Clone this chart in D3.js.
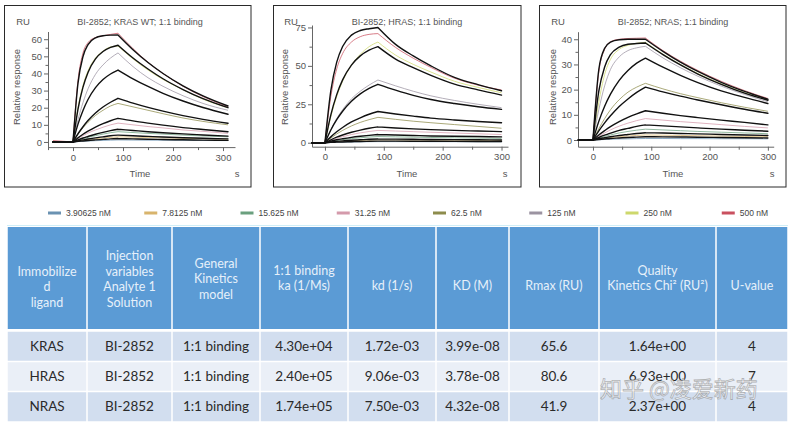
<!DOCTYPE html>
<html><head><meta charset="utf-8">
<script src="https://cdn.jsdelivr.net/npm/d3@7"></script>
<style>body{margin:0;background:#fff}svg{display:block}</style>
</head><body><svg id="c" width="790" height="424"></svg>
<script>
// ---------------- DATA ----------------
const concentrations = ["3.90625 nM","7.8125 nM","15.625 nM","31.25 nM","62.5 nM","125 nM","250 nM","500 nM"];
const legendColors = ["#6a92b2","#d8b46c","#6aa07e","#d49aab","#8d8c4c","#9b93a1","#cdd86c","#c9505f"];

const kTime = [-40,0,10,20,30,45,60,75,90,120,150,180,220,260,310];
const hTime = [-22,0,10,20,30,45,60,75,90,120,150,180,220,260,300];
const nTime = [-25,0,10,20,30,45,60,75,90,120,150,180,220,260,300];

// fitted (black) curves, highest concentration first
const krasFit = [
 [0,0,34.4,49.9,56.8,60.8,62,62.4,62.5,53.9,46.4,40,32.8,26.9,21],
 [0,0,19.2,32,40.6,48.5,52.8,55.2,56.5,49,42.6,36.9,30.6,25.3,20],
 [0,0,10.4,18.4,24.8,31.7,36.5,39.7,42,36.9,32.4,28.4,23.9,20.1,16.2],
 [0,0,4.8,8.9,12.5,16.9,20.4,23.2,25.5,22.7,20.2,18,15.4,13.2,10.9],
 [0,0,2.4,4.5,6.3,8.7,10.7,12.4,13.8,12.3,11,9.8,8.4,7.3,6],
 [0,0,1.2,2.3,3.2,4.5,5.6,6.6,7.4,6.7,6,5.4,4.7,4.1,3.4],
 [0,0,0.64,1.2,1.75,2.4,3,3.6,4,3.6,3.25,2.9,2.5,2.2,1.8],
 [0,0,0.32,0.6,0.87,1.2,1.5,1.8,2,1.8,1.6,1.45,1.25,1.1,0.9]
];
// measured (coloured) curves, highest concentration first
const krasData = [
 [0.8,0,36,52,58,61,62,62.8,63.5,54.5,46.5,40,32.5,26.5,20.5],
 [0,0,20,33,41.5,49,53,55.5,56,48.5,42,36.5,30.5,25,20],
 [0,0,13,23,31,39.5,45,49,52,44,37.5,32.5,27,22.5,18.5],
 [0,0,4.5,8.3,11.5,15.5,18.5,21,22.5,20.5,18.5,16.5,14,12,10],
 [0,0,2,3.7,5.2,7,8.6,10,11,10,9,8.2,7,6.2,5],
 [0,0,1,1.9,2.7,3.7,4.6,5.4,6,5.5,5,4.6,4,3.5,3],
 [0,0,0.5,1,1.4,1.9,2.3,2.7,3,2.8,2.6,2.4,2.1,1.9,1.6],
 [0,0,0.2,0.4,0.55,0.75,0.9,1.05,1.2,1.1,1.05,1,0.9,0.85,0.8]
];
const hrasFit = [
 [0,0,33.9,52.4,62.6,70,73,74.2,75,64,56.5,50,42.5,37.8,33.8],
 [0,0,18.1,31.3,40.9,50.5,56.5,60.2,62.5,54.4,48.8,43.8,38.1,34.4,31],
 [0,0,8.3,15,20.5,27,31.8,35.4,38,34.2,30.8,28.1,25.5,23.4,21.7],
 [0,0,3.8,7.1,9.9,13.5,16.2,18.5,20.3,18.7,17.3,16,14.8,13.8,13],
 [0,0,1.9,3.6,5,6.8,8.2,9.4,10.3,9.6,9,8.5,8,7.6,7.2],
 [0,0,1,1.9,2.6,3.5,4.2,4.8,5.3,5,4.7,4.4,4.2,4,3.8],
 [0,0,0.45,0.85,1.2,1.6,1.9,2.2,2.4,2.3,2.2,2.1,2,1.9,1.8],
 [0,0,0.2,0.35,0.5,0.65,0.8,0.9,1,1,0.95,0.9,0.85,0.8,0.75]
];
const hrasData = [
 [0,0,30,48,58,65.5,69,70.5,71,62,55,49,42,37.5,34.3],
 [0,0,17,30,40,50.5,57.5,62.5,65.5,57,51,46,40,36,32.5],
 [0,0,8.5,15.7,21.5,28.5,33.5,37.5,40.8,37,33.5,30.5,27.5,25,22.8],
 [0,0,3,5.7,8,10.9,13.2,15,16.5,15.2,14,13,11.8,10.6,9.4],
 [0,0,1.5,2.8,3.9,5.3,6.4,7.3,8,7.6,7.2,6.8,6.3,5.8,5.3],
 [0,0,0.8,1.4,2,2.7,3.2,3.7,4,3.8,3.6,3.4,3.2,3,2.8],
 [0,0,0.35,0.65,0.9,1.2,1.45,1.65,1.8,1.75,1.7,1.65,1.6,1.55,1.5],
 [0,0,0.1,0.25,0.35,0.45,0.55,0.65,0.7,0.7,0.7,0.65,0.65,0.6,0.6]
];
const nrasFit = [
 [0,0,28,36.4,38.9,39.8,40,40,40,35.2,30.9,27.2,22.9,19.3,16.2],
 [0,0,19.4,29,33.9,36.9,38,38.3,38.5,33.9,29.8,26.2,22.1,18.6,15.8],
 [0,0,7.4,13.4,18.2,23.7,27.6,30.5,32.5,28.9,25.7,22.8,19.5,16.9,14.5],
 [0,0,3.6,6.8,9.6,13.3,16.3,18.9,21,19.1,17.4,15.9,14,12.2,10.6],
 [0,0,2,3.7,5.3,7.3,9,10.4,11.6,10.6,9.7,8.9,7.9,7,6],
 [0,0,1,1.9,2.7,3.8,4.6,5.4,6,5.6,5.2,4.8,4.3,3.9,3.5],
 [0,0,0.5,0.9,1.3,1.8,2.2,2.6,2.9,2.75,2.6,2.45,2.2,2,1.8],
 [0,0,0.2,0.4,0.6,0.8,1,1.15,1.3,1.25,1.2,1.1,1,0.9,0.8]
];
const nrasData = [
 [0,0,27,36,39,40,40.3,40.4,40.5,35.5,31.3,27.6,23.3,19.6,16.5],
 [0,0,15,26,32,36,37.6,38.4,38.8,34.1,30,26.4,22.3,18.8,15.9],
 [0,0,12,21.5,28,33,35.5,36.6,37.2,32.6,28.7,25.3,21.4,18.1,15.2],
 [0,0,4.5,8.5,12,16,19,21,22.5,20.3,18.4,16.8,14.8,13,11.4],
 [0,0,1.5,2.8,4,5.5,6.7,7.7,8.5,7.9,7.3,6.8,6.1,5.4,4.8],
 [0,0,0.7,1.4,2,2.8,3.4,3.9,4.3,4,3.7,3.4,3.1,2.8,2.5],
 [0,0,0.3,0.6,0.9,1.3,1.6,1.8,2,1.9,1.8,1.7,1.55,1.4,1.3],
 [0,0,0.1,0.2,0.3,0.4,0.45,0.55,0.6,0.6,0.55,0.55,0.5,0.5,0.45]
];

const xTickValues = [0,100,200,300];
const krasYTicks = [0,10,20,30,40,50,60];
const hrasYTicks = [0,25,50,75];
const nrasYTicks = [0,10,20,30,40];

const tableHeader = [
 ["Immobilize","d","ligand"],
 ["Injection","variables","Analyte 1","Solution"],
 ["General","Kinetics","model"],
 ["1:1 binding","ka (1/Ms)"],
 ["kd (1/s)"],
 ["KD (M)"],
 ["Rmax (RU)"],
 ["Quality","Kinetics Chi\u00B2 (RU\u00B2)"],
 ["U-value"]
];
const tableRows = [
 ["KRAS","BI-2852","1:1 binding","4.30e+04","1.72e-03","3.99e-08","65.6","1.64e+00","4"],
 ["HRAS","BI-2852","1:1 binding","2.40e+05","9.06e-03","3.78e-08","80.6","6.93e+00","7"],
 ["NRAS","BI-2852","1:1 binding","1.74e+05","7.50e-03","4.32e-08","41.9","2.37e+00","4"]
];
const watermark = "知乎 @凌爱新药";

// ---------------- LAYOUT ----------------
const svg = d3.select("#c");
const FONT = "'Liberation Sans', Arial, sans-serif";
const panels = [
 {title:"BI-2852; KRAS WT; 1:1 binding", time:kTime, fit:krasFit, data:krasData, yTicks:krasYTicks, yStep:5,
  frame:[4.5,5.5,251,187], xDom:[-50,324], xR:[48,235], yDom:[-3,64.5], yR:[147.1,31.5], ruX:23, tX:140, labX:20, sX:237},
 {title:"BI-2852; HRAS; 1:1 binding", time:hTime, fit:hrasFit, data:hrasData, yTicks:hrasYTicks, yStep:12.5,
  frame:[273.5,5.5,521,187], xDom:[-22,311], xR:[312,508], yDom:[-2.6,76.6], yR:[146.7,25], ruX:291, tX:407, labX:288, sX:505},
 {title:"BI-2852; NRAS; 1:1 binding", time:nTime, fit:nrasFit, data:nrasData, yTicks:nrasYTicks, yStep:5,
  frame:[539.5,5.5,786,187], xDom:[-25.7,310], xR:[578,773.7], yDom:[-2.66,43], yR:[146.7,31.7], ruX:558, tX:673, labX:556, sX:772}
];

panels.forEach(p=>{
  const g = svg.append("g");
  const [fx0,fy0,fx1,fy1] = p.frame;
  g.append("rect").attr("x",fx0).attr("y",fy0).attr("width",fx1-fx0).attr("height",fy1-fy0)
   .attr("fill","#fff").attr("stroke","#2a2a2a").attr("stroke-width",1);
  const x = d3.scaleLinear().domain(p.xDom).range(p.xR);
  const y = d3.scaleLinear().domain(p.yDom).range(p.yR);

  const styleAxis = sel=>{
    sel.selectAll("path,line").attr("stroke","#666").attr("stroke-width",1);
    sel.selectAll("text").attr("fill","#555").attr("font-family",FONT).attr("font-size","9.5px");
  };
  const minorX = d3.range(-50, 351, 50).filter(v=>v>=p.xDom[0]-0.5 && v<=p.xDom[1] && v%100!==0);
  g.append("g").attr("transform",`translate(0,${p.yR[0]})`)
    .call(d3.axisBottom(x).tickValues(minorX).tickSize(3).tickSizeOuter(0).tickFormat(""))
    .call(s=>s.select(".domain").remove()).call(styleAxis);
  g.append("g").attr("transform",`translate(0,${p.yR[0]})`)
    .call(d3.axisBottom(x).tickValues(xTickValues).tickSize(4).tickSizeOuter(0).tickPadding(3).tickFormat(d3.format("d")))
    .call(styleAxis);
  const minorY = d3.range(0, p.yDom[1], p.yStep).filter(v=>!p.yTicks.includes(v));
  g.append("g").attr("transform",`translate(${p.xR[0]},0)`)
    .call(d3.axisLeft(y).tickValues(minorY).tickSize(2.5).tickSizeOuter(0).tickFormat(""))
    .call(s=>s.select(".domain").remove()).call(styleAxis);
  g.append("g").attr("transform",`translate(${p.xR[0]},0)`)
    .call(d3.axisLeft(y).tickValues(p.yTicks).tickSize(4).tickSizeOuter(0).tickPadding(2).tickFormat(d3.format("d")))
    .call(styleAxis);

  const txt = (xx,yy,s,opt={})=>g.append("text").attr("x",xx).attr("y",yy).text(s)
    .attr("font-family",FONT).attr("font-size",opt.size||"9.5px").attr("fill","#555")
    .attr("text-anchor",opt.anchor||"middle");
  txt(p.ruX,24.5,"RU");
  txt(p.tX,24.5,p.title,{size:"9px"});
  txt(p.tX,176.5,"Time");
  txt(p.sX,176.5,"s");
  g.append("text").attr("transform",`translate(${p.labX},87) rotate(-90)`).attr("text-anchor","middle")
    .attr("font-family",FONT).attr("font-size","9.5px").attr("fill","#555").text("Relative response");

  const i0 = p.time.indexOf(0), i90 = p.time.indexOf(90);
  const pathOf = vals=>{
    const pts = p.time.map((t,i)=>[t,vals[i]]);
    const L = c=>d3.line().x(d=>x(d[0])).y(d=>y(d[1])).curve(c);
    return L(d3.curveLinear)(pts.slice(0,i0+1)) + L(d3.curveMonotoneX)(pts.slice(i0,i90+1)) + L(d3.curveMonotoneX)(pts.slice(i90));
  };
  const cg = g.append("g");
  p.data.forEach((vals,k)=>{
    cg.append("path").attr("d",pathOf(vals)).attr("fill","none")
      .attr("stroke",legendColors[legendColors.length-1-k]).attr("stroke-width",1).attr("opacity",0.75);
  });
  p.fit.forEach(vals=>{
    cg.append("path").attr("d",pathOf(vals)).attr("fill","none")
      .attr("stroke","#111").attr("stroke-width",1.4).attr("stroke-linejoin","round").attr("stroke-linecap","round");
  });
});

// legend
const lx = d3.scaleBand().domain(concentrations).range([48, 818]);
const lg = svg.append("g");
concentrations.forEach((c,i)=>{
  lg.append("rect").attr("x",lx(c)).attr("y",211.5).attr("width",13).attr("height",3).attr("fill",legendColors[i]);
  lg.append("text").attr("x",lx(c)+18).attr("y",216).text(c).attr("font-family",FONT)
    .attr("font-size","8.5px").attr("fill","#444");
});

// table
const colX = [7,87,172,260,348,436,509,599,716,788];
const TFONT = "Lato, 'Open Sans', sans-serif";
const tg = svg.append("g");
tg.append("line").attr("x1",7).attr("x2",788).attr("y1",225.5).attr("y2",225.5).attr("stroke","#cfeef7");
const headCenter = [287,279,279,278,286,286,286,278,286];
const rowY = [331,361.5,391.5,422];
const rowFill = ["#d2deef","#eaeff7","#d2deef"];
tableHeader.forEach((lines,j)=>{
  tg.append("rect").attr("x",colX[j]+0.75).attr("y",227).attr("width",colX[j+1]-colX[j]-1.5).attr("height",102)
    .attr("fill","#5b9bd5");
  const cx = (colX[j]+colX[j+1])/2, lh = 15.7;
  lines.forEach((s,k)=>{
    tg.append("text").attr("x",cx).attr("y",headCenter[j]-(lines.length-1)*lh/2+k*lh).attr("dy","0.35em")
      .attr("text-anchor","middle").attr("font-family",TFONT).attr("font-size","12.5px").attr("fill","#e6f0fa").text(s);
  });
});
tableRows.forEach((row,r)=>{
  row.forEach((s,j)=>{
    tg.append("rect").attr("x",colX[j]+0.75).attr("y",rowY[r]+0.75).attr("width",colX[j+1]-colX[j]-1.5)
      .attr("height",rowY[r+1]-rowY[r]-1.5).attr("fill",rowFill[r]);
    tg.append("text").attr("x",(colX[j]+colX[j+1])/2).attr("y",(rowY[r]+rowY[r+1])/2).attr("dy","0.35em")
      .attr("text-anchor","middle").attr("font-family",TFONT).attr("font-size","13.5px").attr("fill","#2a2a2a").text(s);
  });
});

// watermark (overlays the table as in the reference)
svg.append("text").attr("x",600).attr("y",397).text(watermark)
  .attr("font-family","'Noto Sans CJK SC', sans-serif").attr("font-size","22px")
  .attr("fill","rgba(255,255,255,0.7)").attr("stroke","rgba(110,110,110,0.5)").attr("stroke-width",0.8);
</script></body></html>
